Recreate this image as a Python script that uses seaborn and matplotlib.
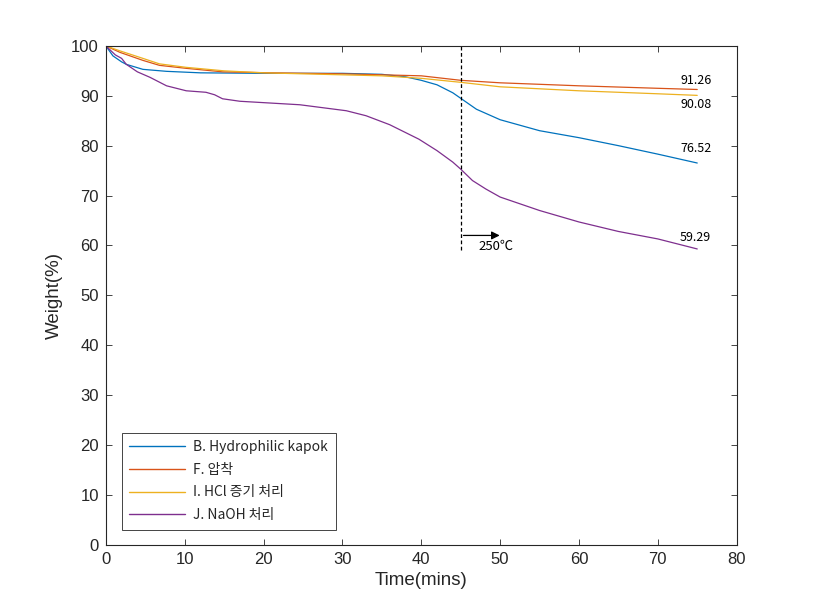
import numpy as np
import pandas as pd
import matplotlib
matplotlib.use("Agg")
import matplotlib.pyplot as plt
import seaborn as sns

# TGA curves
t_b = [0, 0.9, 2.0, 2.6, 4.7, 7.7, 12, 20, 30, 35, 38, 40, 42, 44, 45, 47, 50, 55, 60, 65, 70, 75]
w_b = [100, 98, 96.8, 96.3, 95.3, 94.9, 94.6, 94.5, 94.5, 94.3, 93.8, 93.1, 92.2, 90.6, 89.5, 87.3, 85.2, 83, 81.6, 80, 78.3, 76.52]

t_f = [0, 1.8, 4.7, 6.8, 10.2, 14.8, 21, 30, 35, 40, 45, 50, 60, 70, 75]
w_f = [100, 98.7, 97.1, 96.1, 95.5, 94.8, 94.6, 94.4, 94.2, 94.0, 93.1, 92.6, 92.0, 91.5, 91.26]

t_i = [0, 1.8, 4.7, 6.8, 10.2, 15, 20, 30, 35, 40, 45, 50, 60, 70, 75]
w_i = [100, 99, 97.5, 96.4, 95.7, 95.0, 94.6, 94.2, 94.0, 93.5, 92.7, 91.8, 91.0, 90.4, 90.08]

t_j = [0, 1.2, 2.0, 2.6, 4, 5.6, 7.7, 10.2, 12.7, 13.8, 14.8, 17, 24.6, 30.5, 33, 36, 39.7, 42, 44, 45, 46.5, 48.2, 50, 55, 60, 65, 70, 75]
w_j = [100, 98.2, 97.5, 96.3, 94.8, 93.7, 92, 91, 90.7, 90.2, 89.4, 88.9, 88.2, 87, 86, 84.2, 81.3, 79, 76.7, 75.3, 73, 71.3, 69.7, 67, 64.7, 62.8, 61.3, 59.29]

labels = ["B. Hydrophilic kapok", "F. 압착", "I. HCl 증기 처리", "J. NaOH 처리"]
colors = ["#0072BD", "#D95319", "#EDB120", "#7E2F8E"]
end_labels = ["76.52", "91.26", "90.08", "59.29"]
end_label_y = [79.4, 93.0, 88.2, 61.6]

series = [(t_b, w_b), (t_f, w_f), (t_i, w_i), (t_j, w_j)]
df = pd.concat([pd.DataFrame({"time": t, "weight": w, "sample": lab})
                for (t, w), lab in zip(series, labels)], ignore_index=True)

sns.set_theme(style="ticks")
plt.rcParams['font.family'] = ['Liberation Sans', 'Noto Sans CJK KR', 'DejaVu Sans']
ink = "#262626"
kr = ['Noto Sans CJK KR', 'DejaVu Sans']

fig = plt.figure(figsize=(8.14, 6.12), dpi=100)
ax = fig.add_axes([0.13, 0.11, 0.775, 0.815])

sns.lineplot(data=df, x="time", y="weight", hue="sample", palette=colors,
             hue_order=labels, linewidth=0.9, sort=False, estimator=None, ax=ax)

# 250 degC marker
ax.plot([45, 45], [59, 100], color="black", linestyle=(0, (3, 2)), linewidth=0.9)
ax.annotate("", xy=(50.3, 62), xytext=(45, 62),
            arrowprops=dict(arrowstyle="-|>", color="black", lw=0.9, mutation_scale=12))
ax.text(49.5, 59.8, "250℃", ha="center", va="center", fontsize=9.5,
        family=kr, color="black")

for lab, y in zip(end_labels, end_label_y):
    ax.text(74.8, y, lab, ha="center", va="center", fontsize=9,
            family=kr, color="black")

ax.set_xlim(0, 80)
ax.set_ylim(0, 100)
ax.set_xticks(np.arange(0, 81, 10))
ax.set_yticks(np.arange(0, 101, 10))
ax.tick_params(direction="in", length=4, width=0.6, top=True, right=True,
               labelsize=12, colors=ink, pad=5)
for s in ax.spines.values():
    s.set_color(ink)
    s.set_linewidth(0.8)
ax.set_xlabel("Time(mins)", fontsize=13.5, color=ink, labelpad=4)
ax.set_ylabel("Weight(%)", fontsize=13.5, color=ink, labelpad=6)

leg = ax.legend(loc="lower left", bbox_to_anchor=(0.025, 0.03), borderaxespad=0,
                fancybox=False, framealpha=1, edgecolor=ink, handlelength=4,
                prop={'family': kr, 'size': 10},
                labelspacing=0.62, borderpad=0.55, handletextpad=0.6)
leg.get_frame().set_linewidth(0.6)
for line in leg.get_lines():
    line.set_linewidth(1.0)

fig.savefig("out.png", dpi=100, facecolor="white")
